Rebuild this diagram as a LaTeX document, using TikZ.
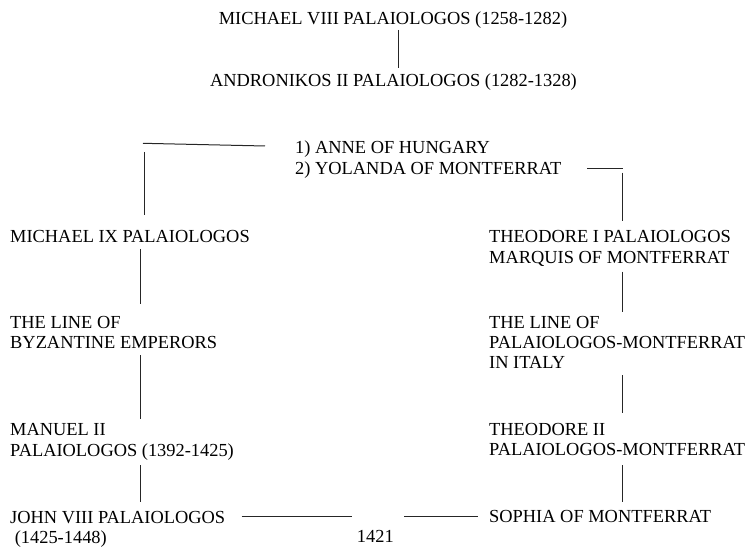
\documentclass[tikz,border=0pt]{standalone}
\usepackage{fontspec}
\setmainfont{Liberation Serif}
\tikzset{
  person/.style={anchor=base west, inner sep=0pt, align=left,
    font=\fontsize{18.4bp}{20.3bp}\selectfont},
  link/.style={line width=1bp, draw=black!85, line cap=butt}
}
\begin{document}
\begin{tikzpicture}[x=1bp,y=-1bp]
\useasboundingbox (0,0) rectangle (754,549);
% people (multi-line nodes are placed by the baseline of their last line)
\node[person, anchor=base] (m8) at (393,25) {MICHAEL VIII PALAIOLOGOS (1258-1282)};
\node[person, anchor=base] (a2) at (393.5,87) {ANDRONIKOS II PALAIOLOGOS (1282-1328)};
\node[person, font=\fontsize{18.4bp}{21.7bp}\selectfont] (wives) at (295,175) {1) ANNE OF HUNGARY\\2) YOLANDA OF MONTFERRAT};
\node[person] (m9) at (10,242.3) {MICHAEL IX PALAIOLOGOS};
\node[person] (t1) at (489,263.3) {THEODORE I PALAIOLOGOS\\MARQUIS OF MONTFERRAT};
\node[person] (byz) at (10,348.3) {THE LINE OF\\BYZANTINE EMPERORS};
\node[person] (mont) at (489,368.6) {THE LINE OF\\PALAIOLOGOS-MONTFERRAT\\IN ITALY};
\node[person] (m2) at (10,456) {MANUEL II\\PALAIOLOGOS (1392-1425)};
\node[person] (t2) at (489,455.3) {THEODORE II\\PALAIOLOGOS-MONTFERRAT};
\node[person] (j8) at (10,543.3) {JOHN VIII PALAIOLOGOS\\\hspace*{0.25em}(1425-1448)};
\node[person] (soph) at (489,522.7) {SOPHIA OF MONTFERRAT};
\node[person] (yr) at (356.7,542.7) {1421};
% connector end points
\coordinate (m8b) at (398,30);   \coordinate (a2t) at (398,68);
\coordinate (wl1) at (265,146);  \coordinate (wl2) at (143,143.3);
\coordinate (wl3) at (144,152);  \coordinate (m9t) at (144,215);
\coordinate (wr1) at (587.3,169); \coordinate (wr2) at (622.5,169);
\coordinate (wr3) at (622.5,172.7); \coordinate (t1t) at (622.5,220.7);
\coordinate (m9b) at (140,249);  \coordinate (byzt) at (140,304);
\coordinate (t1b) at (622.7,271.7); \coordinate (montt) at (622.7,311.7);
\coordinate (byzb) at (140,355); \coordinate (m2t) at (140,419);
\coordinate (montb) at (622.7,375); \coordinate (t2t) at (622.7,412.7);
\coordinate (m2b) at (140,465);  \coordinate (j8t) at (140,501.7);
\coordinate (t2b) at (622.7,465); \coordinate (sopht) at (622.7,501.7);
\coordinate (j8r) at (241.7,516.7); \coordinate (yrl) at (351.7,516.7);
\coordinate (yrr) at (404,516.7); \coordinate (sophl) at (478,516.7);
% connectors
\draw[link] (m8b) -- (a2t);
\draw[link] (wl1) -- (wl2);
\draw[link] (wl3) -- (m9t);
\draw[link] (wr1) -- (wr2);
\draw[link] (wr3) -- (t1t);
\draw[link] (m9b) -- (byzt);
\draw[link] (t1b) -- (montt);
\draw[link] (byzb) -- (m2t);
\draw[link] (montb) -- (t2t);
\draw[link] (m2b) -- (j8t);
\draw[link] (t2b) -- (sopht);
\draw[link] (j8r) -- (yrl);
\draw[link] (yrr) -- (sophl);
\end{tikzpicture}
\end{document}
